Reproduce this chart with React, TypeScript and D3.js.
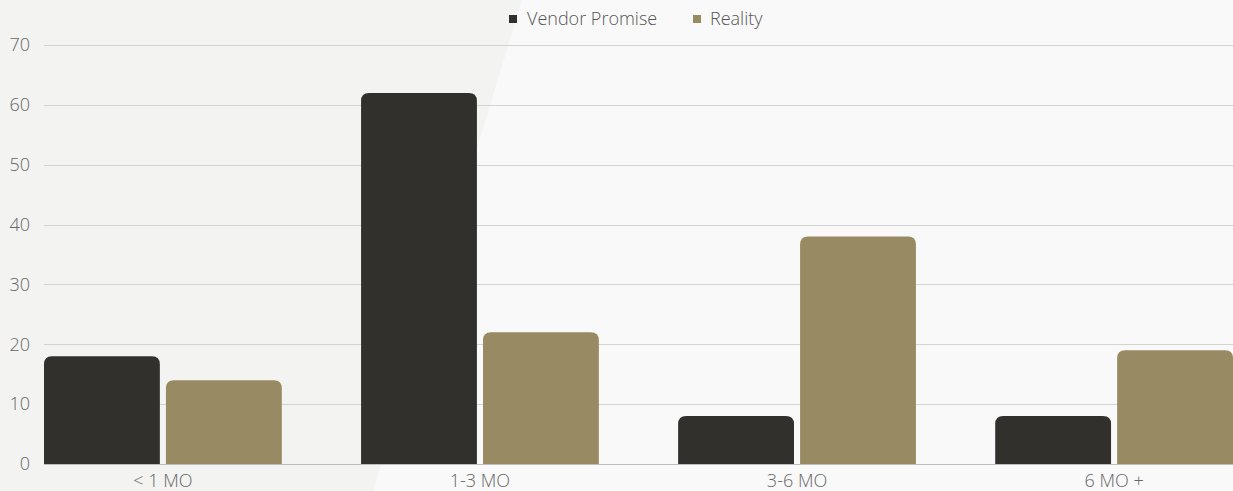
import React from "react";
import * as d3 from "d3";

const categories = ["< 1 MO", "1-3 MO", "3-6 MO", "6 MO +"];
const seriesNames = ["Vendor Promise", "Reality"];
const vendorPromise = [18, 62, 8, 8];
const reality = [14, 22, 38, 19];
const yTicks = [0, 10, 20, 30, 40, 50, 60, 70];
const colors = ["#32302d", "#988a62"];

const W = 1233;
const H = 491;
const M = { left: 44, right: 0, top: 45, bottom: 27 };

function roundTopRect(x: number, y: number, w: number, h: number, r: number) {
  const rr = Math.min(r, h, w / 2);
  return `M${x},${y + h}V${y + rr}Q${x},${y} ${x + rr},${y}H${x + w - rr}Q${x + w},${y} ${x + w},${y + rr}V${y + h}Z`;
}

export default function App() {
  const x0 = d3
    .scaleBand<string>()
    .domain(categories)
    .range([M.left, W - M.right])
    .paddingInner(0.25)
    .paddingOuter(0);
  const x1 = d3
    .scaleBand<string>()
    .domain(seriesNames)
    .range([0, x0.bandwidth()])
    .paddingInner(0.05);
  const y = d3.scaleLinear().domain([0, 70]).range([H - M.bottom, M.top]);
  const series = [vendorPromise, reality];
  const font = "'Open Sans', 'Noto Sans', sans-serif";

  return (
    <svg
      width={W}
      height={H}
      style={{ position: "absolute", left: 0, top: 0, display: "block" }}
      fontFamily={font}
    >
      <rect x={0} y={0} width={W} height={H} fill="#f9f9f9" />
      <polygon points={`0,0 522,0 373,${H} 0,${H}`} fill="#f3f3f2" />
      {yTicks.map((t) => (
        <g key={t}>
          <line
            x1={M.left}
            x2={W - M.right}
            y1={Math.round(y(t)) + 0.5}
            y2={Math.round(y(t)) + 0.5}
            stroke={t === 0 ? "#bdbdbd" : "#d3d3d3"}
            strokeWidth={1}
          />
          <text
            x={30}
            y={y(t)}
            dy="0.35em"
            textAnchor="end"
            fontSize={18}
            fontWeight={300}
            fill="#666666"
          >
            {t}
          </text>
        </g>
      ))}
      {categories.map((c, i) => (
        <g key={c} transform={`translate(${x0(c)},0)`}>
          {seriesNames.map((s, j) => {
            const v = series[j][i];
            const bx = x1(s) as number;
            const by = y(v);
            return (
              <path
                key={s}
                d={roundTopRect(bx, by, x1.bandwidth(), y(0) - by, 8)}
                fill={colors[j]}
              />
            );
          })}
          <text
            x={x0.bandwidth() / 2}
            y={487}
            textAnchor="middle"
            fontSize={18}
            fontWeight={300}
            fill="#666666"
          >
            {c}
          </text>
        </g>
      ))}
      <g>
        <rect x={509} y={15} width={8} height={8} fill={colors[0]} />
        <text x={527} y={25} fontSize={18} fontWeight={300} fill="#555555">
          {seriesNames[0]}
        </text>
        <rect x={693} y={15} width={8} height={8} fill={colors[1]} />
        <text x={710} y={25} fontSize={18} fontWeight={300} fill="#555555">
          {seriesNames[1]}
        </text>
      </g>
    </svg>
  );
}
